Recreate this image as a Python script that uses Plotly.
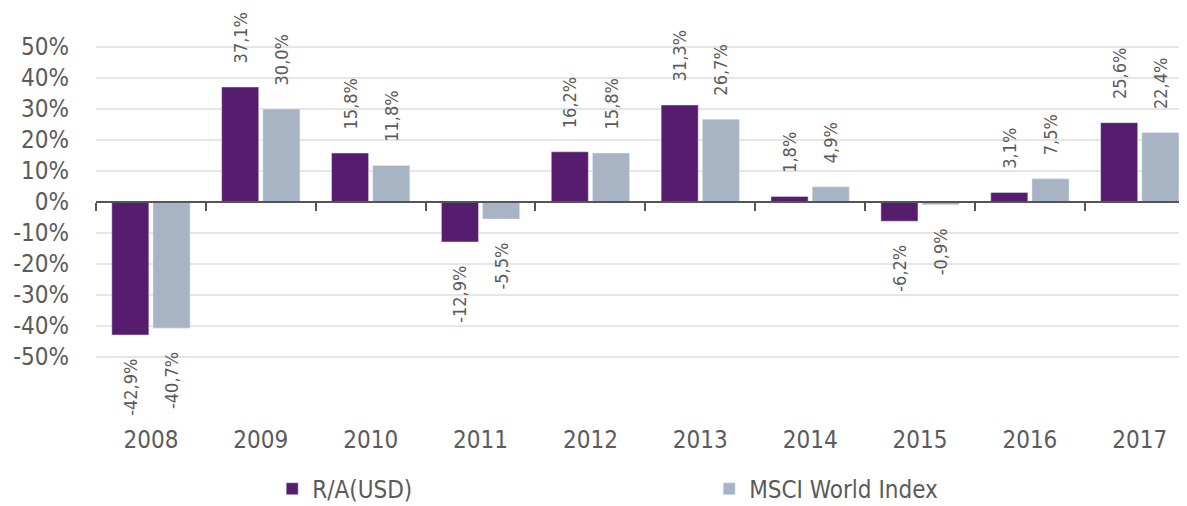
import plotly.graph_objects as go

years = ["2008", "2009", "2010", "2011", "2012", "2013", "2014", "2015", "2016", "2017"]
ra_usd = [-42.9, 37.1, 15.8, -12.9, 16.2, 31.3, 1.8, -6.2, 3.1, 25.6]
msci = [-40.7, 30.0, 11.8, -5.5, 15.8, 26.7, 4.9, -0.9, 7.5, 22.4]
y_ticks = [-50, -40, -30, -20, -10, 0, 10, 20, 30, 40, 50]

PAD = "\u00a0" * 4


def fmt(v):
    s = f"{v:.1f}".replace(".", ",") + "%"
    # rotated text reads upward: pad the side that faces the bar
    return PAD + s if v >= 0 else s + PAD


FONT = "DejaVu Sans Condensed"
TXT = "#5b5b5b"
PURPLE = "#561c6e"
GREY = "#a8b4c4"

fig = go.Figure()
fig.add_trace(go.Bar(
    x=years, y=ra_usd, name="R/A(USD)", marker_color=PURPLE,
    text=[fmt(v) for v in ra_usd], textposition="outside", textangle=-90,
    constraintext="none",
    textfont=dict(size=18, color=TXT, family=FONT), cliponaxis=False,
))
fig.add_trace(go.Bar(
    x=years, y=msci, name="MSCI World Index", marker_color=GREY,
    text=[fmt(v) for v in msci], textposition="outside", textangle=-90,
    constraintext="none",
    textfont=dict(size=18, color=TXT, family=FONT), cliponaxis=False,
))

y_min, y_max = -70, 60
zero_pos = (0 - y_min) / (y_max - y_min)

fig.update_layout(
    width=1179, height=498,
    margin=dict(l=88, r=0, t=8, b=87, autoexpand=False),
    paper_bgcolor="white", plot_bgcolor="white",
    barmode="group", bargap=0.25, bargroupgap=0.1,
    font=dict(family=FONT, color=TXT, size=23),
    showlegend=True,
    legend=dict(orientation="h", x=0.1615, xanchor="left", y=-0.174, yanchor="middle",
                font=dict(size=24, color=TXT, family=FONT), entrywidth=392,
                itemwidth=30, traceorder="normal"),
    xaxis=dict(type="category", range=[-0.5, 9.43], showline=False, ticks="",
               showgrid=False, tickfont=dict(size=24, color=TXT), ticklabelstandoff=4),
    xaxis2=dict(overlaying="x", anchor="free", position=zero_pos, range=[-0.5, 9.43],
                tickvals=[i - 0.5 for i in range(len(years) + 1)],
                showticklabels=False, showline=True, linecolor="#555555", linewidth=1.5,
                ticks="outside", ticklen=8, tickcolor="#555555", tickwidth=1.5,
                showgrid=False, zeroline=False),
    yaxis=dict(range=[y_min, y_max], tickvals=y_ticks,
               ticktext=[f"{v}%" for v in y_ticks], showgrid=True,
               gridcolor="#e6e6e6", gridwidth=2, zeroline=False,
               tickfont=dict(size=24, color=TXT), ticklabelstandoff=26),
)
fig.add_trace(go.Scatter(x=[0], y=[0], xaxis="x2", mode="markers",
                         marker=dict(opacity=0), showlegend=False, hoverinfo="skip"))

fig.write_html("out.html")
